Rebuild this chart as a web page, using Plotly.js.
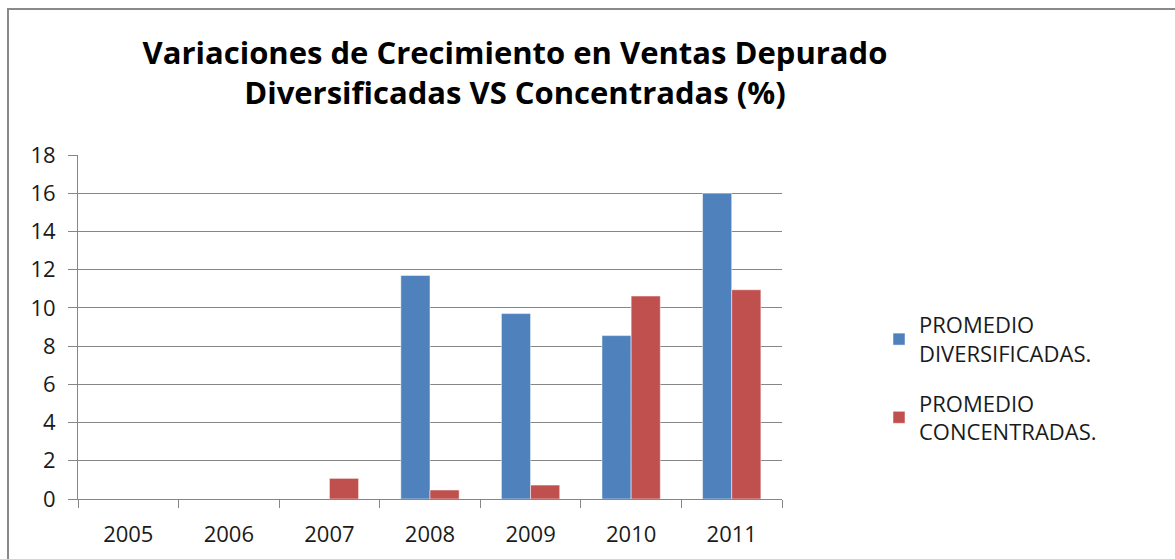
<!DOCTYPE html>
<html>
<head>
<meta charset="utf-8">
<script src="https://cdn.plot.ly/plotly-3.0.1.min.js"></script>
<style>html,body{margin:0;padding:0;background:#fff;}#chart{width:1175px;height:559px;}</style>
</head>
<body>
<div id="chart"></div>
<script>
var years = ["2005", "2006", "2007", "2008", "2009", "2010", "2011"];
var diversificadas = [0, 0, 0, 11.7, 9.7, 8.55, 16.0];
var concentradas = [0, 0, 1.08, 0.47, 0.73, 10.62, 10.95];
var seriesNames = ["PROMEDIO<br>DIVERSIFICADAS.", "PROMEDIO<br>CONCENTRADAS."];
var yTicks = [0, 2, 4, 6, 8, 10, 12, 14, 16, 18];

var fontFam = "Open Sans, Liberation Sans, sans-serif";
var txt = "#1a1a1a";

var data = [
  {type: "bar", x: years, y: diversificadas, name: seriesNames[0], legendgroup: "a",
   marker: {color: "#4f81bd", line: {color: "#ffffff", width: 0.5}}},
  {type: "bar", x: years, y: concentradas, name: seriesNames[1], legendgroup: "b",
   marker: {color: "#c0504d", line: {color: "#ffffff", width: 0.5}}}
];

var layout = {
  width: 1175, height: 559,
  margin: {l: 78, r: 393, t: 155, b: 60},
  paper_bgcolor: "#ffffff", plot_bgcolor: "#ffffff",
  barmode: "group", bargap: 0.42, bargroupgap: 0,
  title: {
    text: "<b>Variaciones de Crecimiento en Ventas Depurado<br>Diversificadas VS Concentradas (%)</b>",
    font: {family: fontFam, size: 31, color: "#000000"},
    x: 515/1175, xanchor: "center", xref: "container",
    y: 1 - 64/559, yanchor: "top", yref: "container"
  },
  xaxis: {
    type: "category", tickson: "boundaries", ticks: "outside", ticklen: 8,
    tickcolor: "#868686", showline: true, linecolor: "#868686", linewidth: 1,
    showgrid: false, tickfont: {family: fontFam, size: 22, color: txt},
    ticklabelstandoff: 16, fixedrange: true
  },
  yaxis: {
    range: [0, 18], tickvals: yTicks, ticks: "outside", ticklen: 9,
    tickcolor: "#868686", showline: true, linecolor: "#868686", linewidth: 1,
    showgrid: true, gridcolor: "#868686", gridwidth: 1, zeroline: false,
    tickfont: {family: fontFam, size: 22, color: txt}, ticklabelstandoff: 8,
    fixedrange: true
  },
  legend: {
    x: (879 - 78) / 704, xanchor: "left", y: (499 - 304) / 344, yanchor: "top",
    font: {family: fontFam, size: 22, color: txt}, traceorder: "grouped",
    bgcolor: "rgba(0,0,0,0)", tracegroupgap: 18, itemwidth: 30
  },
  shapes: [
    {type: "rect", xref: "paper", yref: "paper",
     x0: -70/704, x1: 1200/704, y0: -100/344, y1: (499 - 9) / 344,
     line: {color: "#8a8a8a", width: 2}, fillcolor: "rgba(0,0,0,0)", layer: "below"}
  ],
  showlegend: true
};

Plotly.newPlot("chart", data, layout, {displayModeBar: false, staticPlot: true});
</script>
</body>
</html>
